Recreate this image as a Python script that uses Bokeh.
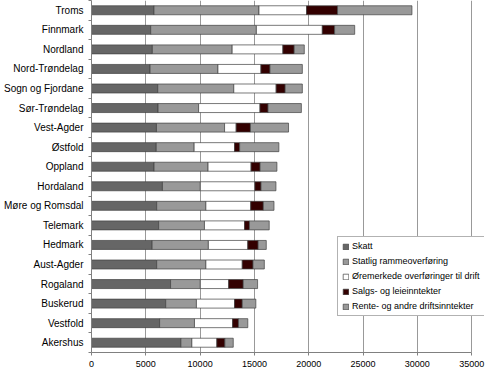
from bokeh.plotting import figure
from bokeh.models import ColumnDataSource, Range1d, FixedTicker, SingleIntervalTicker, Legend
from bokeh.embed import file_html
from bokeh.resources import INLINE

categories = ["Troms", "Finnmark", "Nordland", "Nord-Trøndelag", "Sogn og Fjordane",
              "Sør-Trøndelag", "Vest-Agder", "Østfold", "Oppland", "Hordaland",
              "Møre og Romsdal", "Telemark", "Hedmark", "Aust-Agder", "Rogaland",
              "Buskerud", "Vestfold", "Akershus"]

skatt = [5750, 5450, 5600, 5390, 6100, 6130, 5980, 5960, 5760, 6530, 6000, 6180, 5580, 6000, 7280, 6830, 6270, 8230]
statlig = [9670, 9730, 7350, 6250, 7000, 3730, 6270, 3490, 4970, 3490, 4530, 4220, 5180, 4530, 2740, 2830, 3210, 1010]
oremerk = [4380, 6070, 4670, 3960, 3900, 5650, 1070, 3720, 3960, 5020, 4130, 3690, 3630, 3350, 2610, 3510, 3510, 2300]
salgs = [2850, 1130, 1040, 830, 830, 740, 1310, 470, 830, 570, 1160, 450, 950, 990, 1340, 710, 540, 740]
rente = [6850, 1850, 930, 2980, 1580, 3070, 3510, 3610, 1550, 1370, 980, 1820, 750, 1040, 1320, 1250, 860, 770]

series_keys = ["skatt", "statlig", "oremerk", "salgs", "rente"]
series_labels = ["Skatt", "Statlig rammeoverføring", "Øremerkede overføringer til drift",
                 "Salgs- og leieinntekter", "Rente- og andre driftsinntekter"]
colors = ["#666666", "#999999", "#ffffff", "#330000", "#999999"]

x_ticks_max = 35000
n = len(categories)
ypos = [n - 1 - i for i in range(n)]

source = ColumnDataSource(dict(y=ypos, cat=categories, skatt=skatt, statlig=statlig,
                               oremerk=oremerk, salgs=salgs, rente=rente))

FONT = "Liberation Sans"

# frame extends a little past 35000 so the legend can overhang like in the original
p = figure(width=485, height=369, output_backend="svg", toolbar_location=None,
           x_range=Range1d(0, 36180), y_range=Range1d(-0.5, n - 0.5),
           min_border_left=86, min_border_right=1, min_border_top=0, min_border_bottom=10)
p.outline_line_color = None
p.background_fill_color = "white"

renderers = p.hbar_stack(series_keys, y="y", height=0.46, color=colors, source=source,
                         line_color="#404040", line_width=0.7)

legend = Legend(items=[(lab, [r]) for lab, r in zip(series_labels, renderers)],
                location=(246, 36))
legend.label_text_font = FONT
legend.label_text_font_size = "9px"
legend.label_text_color = "#000000"
legend.glyph_width = 7
legend.glyph_height = 7
legend.label_height = 10
legend.label_standoff = 3
legend.spacing = 5
legend.padding = 4
legend.margin = 0
legend.border_line_color = "#666666"
legend.border_line_width = 1
legend.background_fill_alpha = 1.0
p.add_layout(legend, "center")

# x axis
p.xaxis.ticker = SingleIntervalTicker(interval=5000, num_minor_ticks=0)
p.xaxis.bounds = (0, x_ticks_max)
p.xaxis.axis_line_color = "#808080"
p.xaxis.major_tick_line_color = "#808080"
p.xaxis.major_tick_out = 3
p.xaxis.major_tick_in = 0
p.xaxis.minor_tick_out = 0
p.xaxis.minor_tick_in = 0
p.xaxis.major_label_text_font = FONT
p.xaxis.major_label_text_font_size = "9px"
p.xaxis.major_label_text_color = "#000000"
p.xaxis.major_label_standoff = 5

# y axis
p.yaxis.ticker = FixedTicker(ticks=ypos, minor_ticks=[i - 0.5 for i in range(n + 1)])
p.yaxis.major_label_overrides = {y: c for y, c in zip(ypos, categories)}
p.yaxis.axis_line_color = "#808080"
p.yaxis.major_tick_out = 0
p.yaxis.major_tick_in = 0
p.yaxis.minor_tick_out = 3
p.yaxis.minor_tick_in = 0
p.yaxis.minor_tick_line_color = "#808080"
p.yaxis.major_label_text_font = FONT
p.yaxis.major_label_text_font_size = "10px"
p.yaxis.major_label_text_color = "#000000"
p.yaxis.major_label_standoff = 5

p.xgrid.ticker = FixedTicker(ticks=list(range(5000, x_ticks_max + 1, 5000)))
p.xgrid.grid_line_color = "#999999"
p.xgrid.grid_line_width = 1
p.ygrid.grid_line_color = None

open("out.html", "w").write(file_html(p, INLINE))
